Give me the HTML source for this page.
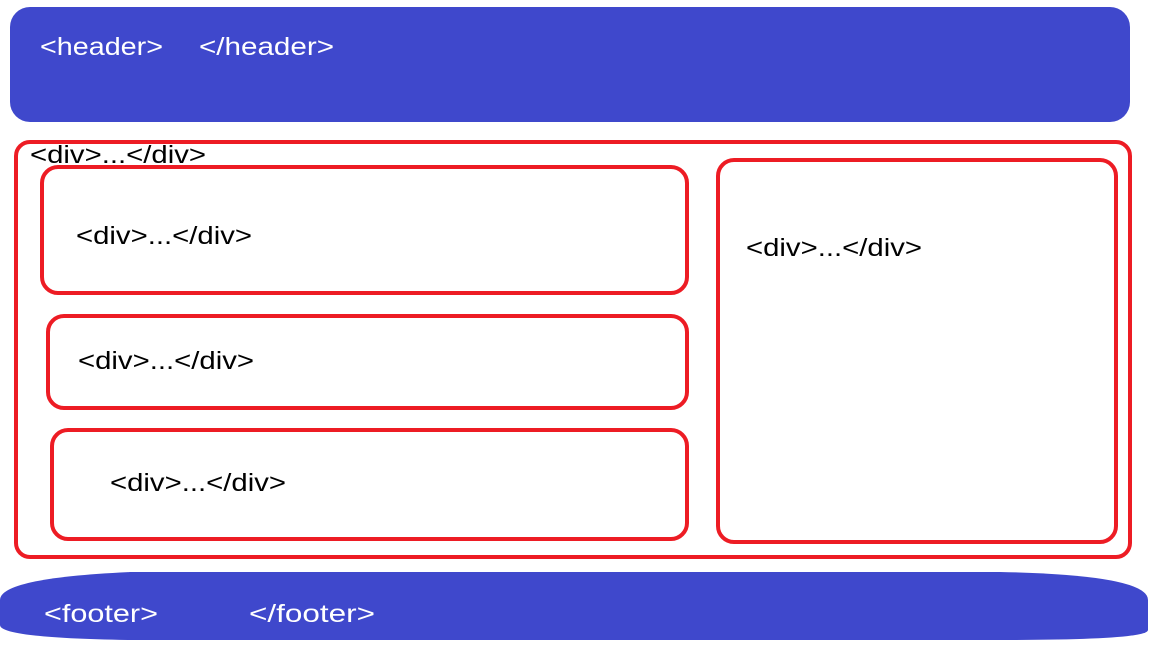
<!DOCTYPE html>
<html><head><meta charset="utf-8"><style>
html,body{margin:0;padding:0;background:#fff;width:1152px;height:648px;overflow:hidden}
svg text{font-family:"Liberation Sans",sans-serif;font-size:25px}
</style></head><body>
<svg width="1152" height="648" viewBox="0 0 1152 648" xmlns="http://www.w3.org/2000/svg">
<rect x="10" y="7" width="1120" height="115" rx="20" fill="#3f48cc"/>
<text x="40" y="55" fill="#fff" textLength="123" lengthAdjust="spacingAndGlyphs">&lt;header&gt;</text>
<text x="199" y="55" fill="#fff" textLength="135" lengthAdjust="spacingAndGlyphs">&lt;/header&gt;</text>
<g fill="none" stroke="#ed1c24" stroke-width="4">
<rect x="16" y="142" width="1114" height="415" rx="14"/>
<rect x="42" y="167" width="645" height="126" rx="16"/>
<rect x="48" y="316" width="639" height="92" rx="16"/>
<rect x="52" y="430" width="635" height="109" rx="16"/>
<rect x="718" y="160" width="398" height="382" rx="16"/>
</g>
<text x="30" y="163" fill="#000" textLength="176" lengthAdjust="spacingAndGlyphs">&lt;div&gt;...&lt;/div&gt;</text>
<text x="76" y="244" fill="#000" textLength="176" lengthAdjust="spacingAndGlyphs">&lt;div&gt;...&lt;/div&gt;</text>
<text x="78" y="369" fill="#000" textLength="176" lengthAdjust="spacingAndGlyphs">&lt;div&gt;...&lt;/div&gt;</text>
<text x="110" y="491" fill="#000" textLength="176" lengthAdjust="spacingAndGlyphs">&lt;div&gt;...&lt;/div&gt;</text>
<text x="746" y="256" fill="#000" textLength="176" lengthAdjust="spacingAndGlyphs">&lt;div&gt;...&lt;/div&gt;</text>
<path d="M0,600 Q0,578 130,572 L1000,572 Q1148,575 1148,600 L1148,630 Q1148,640 1000,640 L130,640 Q0,638 0,625 Z" fill="#3f48cc"/>
<text x="44" y="622" fill="#fff" textLength="114" lengthAdjust="spacingAndGlyphs">&lt;footer&gt;</text>
<text x="249" y="622" fill="#fff" textLength="126" lengthAdjust="spacingAndGlyphs">&lt;/footer&gt;</text>
</svg>
</body></html>
